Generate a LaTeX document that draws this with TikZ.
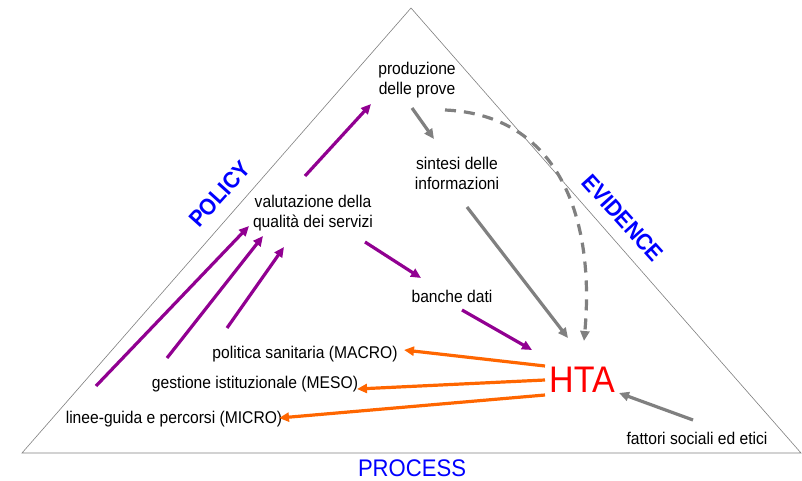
\documentclass[tikz,border=0pt]{standalone}
\usepackage{fontspec}
\setmainfont[FakeStretch=0.92]{Liberation Sans}
\usetikzlibrary{arrows.meta}
\definecolor{pur}{RGB}{145,0,145}
\definecolor{org}{RGB}{255,102,0}
\definecolor{gry}{RGB}{128,128,128}
\definecolor{blu}{RGB}{0,0,255}
\definecolor{rd}{RGB}{255,0,0}
\tikzset{
  lbl/.style={font=\fontsize{17}{20}\selectfont, align=center, inner sep=0pt, text=black},
  side/.style={font=\fontsize{23}{26}\selectfont\bfseries, text=blu, inner sep=0pt},
  arr/.style={line width=3.2pt, -{Triangle[length=10pt,width=9pt]}},
  parr/.style={arr, draw=pur},
  oarr/.style={arr, draw=org},
  garr/.style={arr, draw=gry},
}
\begin{document}
\begin{tikzpicture}[x=1pt,y=-1pt]
\useasboundingbox (0,0) rectangle (802,481);
\fill[white] (0,0) rectangle (802,481);
% triangle
\coordinate (apex) at (411,8);
\coordinate (bl) at (22,453);
\coordinate (br) at (801,453);
\draw[gray, line width=0.6pt] (apex) -- (bl) -- (br) -- cycle;
% side labels
\node[side, rotate=48] (policy) at (220,194) {POLICY};
\node[side, rotate=-48] (evidence) at (623,218) {EVIDENCE};
\node[font=\fontsize{24}{27}\selectfont, text=blu, inner sep=0pt] (process) at (412,468) {PROCESS};
% texts
\node[lbl] (prod) at (417,80) {produzione\\delle prove};
\node[lbl] (sint) at (457,173) {sintesi delle\\informazioni};
\node[lbl] (valu) at (313,213) {valutazione della\\qualità dei servizi};
\node[lbl] (banc) at (452,296) {banche dati};
\node[lbl] (macro) at (305,354) {politica sanitaria (MACRO)};
\node[lbl] (meso) at (255,384) {gestione istituzionale (MESO)};
\node[lbl] (micro) at (174,419) {linee-guida e percorsi (MICRO)};
\node[font=\fontsize{37}{40}\selectfont, text=rd, inner sep=0pt] (hta) at (582,380) {HTA};
\node[lbl] (fatt) at (697,438) {fattori sociali ed etici};
% endpoints
\coordinate (v1s) at (305,176); \coordinate (v1e) at (371,104);
\coordinate (v2s) at (365,242); \coordinate (v2e) at (421,278);
\coordinate (b1s) at (462,310); \coordinate (b1e) at (532,350);
\coordinate (l1s) at (96,386);  \coordinate (l1e) at (249,226);
\coordinate (l2s) at (167,358); \coordinate (l2e) at (263,236);
\coordinate (l3s) at (227,328); \coordinate (l3e) at (284,247);
\coordinate (p1s) at (412,108); \coordinate (p1e) at (434,139);
\coordinate (s1s) at (467,207); \coordinate (s1e) at (568,338);
\coordinate (d1s) at (445,110); \coordinate (d1e) at (584,341);
\coordinate (f1s) at (693,420); \coordinate (f1e) at (619,393);
\coordinate (o1s) at (545,366); \coordinate (o1e) at (404,350);
\coordinate (o2s) at (545,380); \coordinate (o2e) at (357,389);
\coordinate (o3s) at (545,395); \coordinate (o3e) at (279,418);
% purple
\draw[parr] (v1s) -- (v1e);
\draw[parr] (v2s) -- (v2e);
\draw[parr] (b1s) -- (b1e);
\draw[parr] (l1s) -- (l1e);
\draw[parr] (l2s) -- (l2e);
\draw[parr] (l3s) -- (l3e);
% gray
\draw[garr] (p1s) -- (p1e);
\draw[garr] (s1s) -- (s1e);
\draw[garr, dash pattern=on 11pt off 8pt] (d1s) .. controls (560,115) and (595,220) .. (d1e);
\draw[garr] (f1s) -- (f1e);
% orange
\draw[oarr] (o1s) -- (o1e);
\draw[oarr] (o2s) -- (o2e);
\draw[oarr] (o3s) -- (o3e);
\end{tikzpicture}
\end{document}
